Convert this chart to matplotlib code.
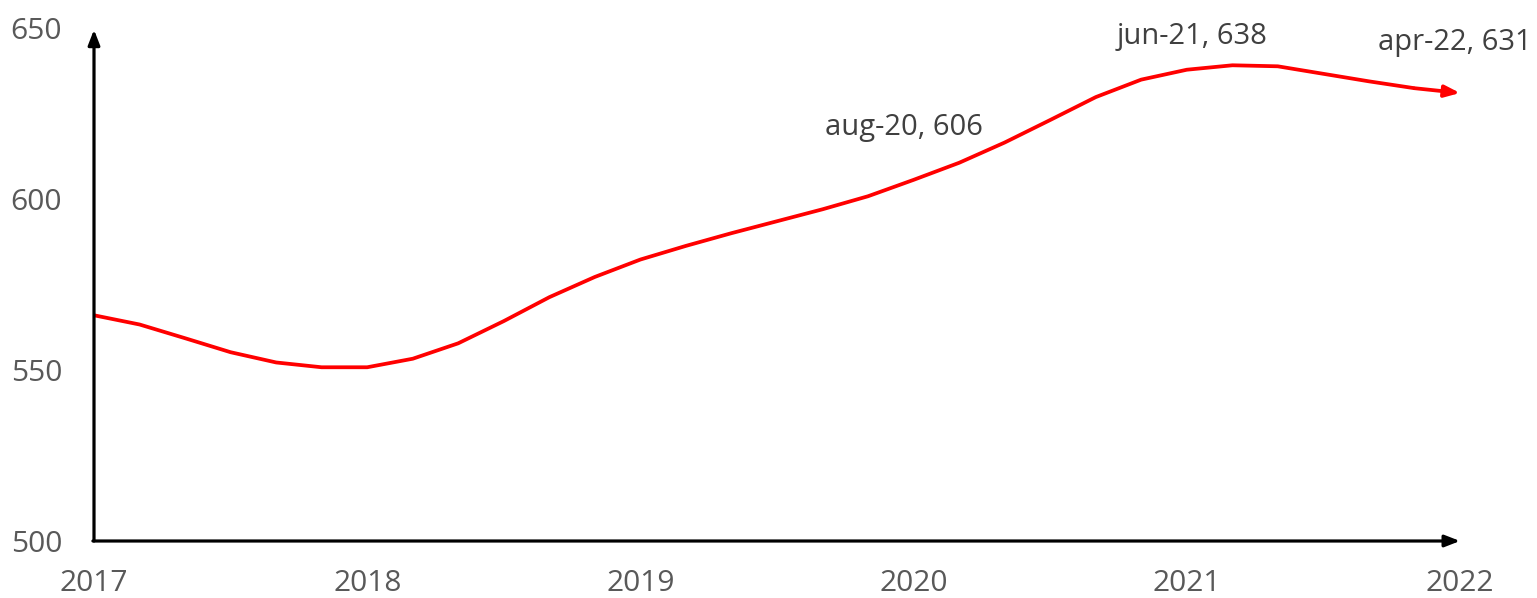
import matplotlib
matplotlib.use("Agg")
import matplotlib.pyplot as plt

# Data (bi-monthly readings)
years = [2017.000, 2017.167, 2017.333, 2017.500, 2017.667, 2017.833,
         2018.000, 2018.167, 2018.333, 2018.500, 2018.667, 2018.833,
         2019.000, 2019.167, 2019.333, 2019.500, 2019.667, 2019.833,
         2020.000, 2020.167, 2020.333, 2020.500, 2020.667, 2020.833,
         2021.000, 2021.167, 2021.333, 2021.500, 2021.667, 2021.833,
         2022.000]
values = [566.0, 563.3, 559.3, 555.2, 552.2, 550.8,
          550.8, 553.3, 557.8, 564.3, 571.3, 577.2,
          582.3, 586.3, 590.0, 593.5, 597.0, 600.8,
          605.6, 610.6, 616.5, 623.1, 629.8, 634.9,
          637.8, 639.1, 638.8, 636.6, 634.4, 632.4,
          631.0]

xticks = [2017, 2018, 2019, 2020, 2021, 2022]
yticks = [500, 550, 600, 650]

labels = ["aug-20, 606", "jun-21, 638", "apr-22, 631"]
label_x = [2019.965, 2021.02, 2021.98]
label_y = [620.8, 647.4, 645.9]

plt.rcParams['font.family'] = ['Open Sans', 'DejaVu Sans']

fig = plt.figure(figsize=(15.37, 5.98), dpi=100)
ax = fig.add_axes([94/1537, 1-541/598, (1460-94)/1537, (541-28)/598])
ax.set_xlim(2017, 2022)
ax.set_ylim(500, 650)

for s in ax.spines.values():
    s.set_visible(False)

ax.set_xticks(xticks)
ax.set_xticklabels([str(t) for t in xticks])
ax.set_yticks(yticks)
ax.set_yticklabels([str(t) for t in yticks])
ax.tick_params(axis='both', length=0, labelsize=21.5, colors='#595959')
ax.tick_params(axis='y', pad=23)
ax.tick_params(axis='x', pad=20)

# axis arrows
ax.annotate('', xy=(2017, 649.5), xytext=(2017, 500), xycoords='data',
            arrowprops=dict(arrowstyle='-|>,head_length=0.9,head_width=0.35', color='black',
                            lw=2.3, shrinkA=0, shrinkB=0), annotation_clip=False)
ax.annotate('', xy=(2022, 500), xytext=(2017 - 0.004, 500), xycoords='data',
            arrowprops=dict(arrowstyle='-|>,head_length=0.9,head_width=0.35', color='black',
                            lw=2.3, shrinkA=0, shrinkB=0), annotation_clip=False)

# series
ax.plot(years[:-1], values[:-1], color='#FF0000', lw=2.7, solid_capstyle='butt',
        solid_joinstyle='round', clip_on=False)
ax.annotate('', xy=(years[-1], values[-1]), xytext=(years[-2], values[-2]),
            arrowprops=dict(arrowstyle='-|>,head_length=0.9,head_width=0.35', color='#FF0000',
                            lw=2.7, shrinkA=0, shrinkB=0), annotation_clip=False)

for t, x, y in zip(labels, label_x, label_y):
    ax.text(x, y, t, ha='center', va='center', fontsize=21, color='#404040', clip_on=False)

fig.savefig('out.png', dpi=100)
